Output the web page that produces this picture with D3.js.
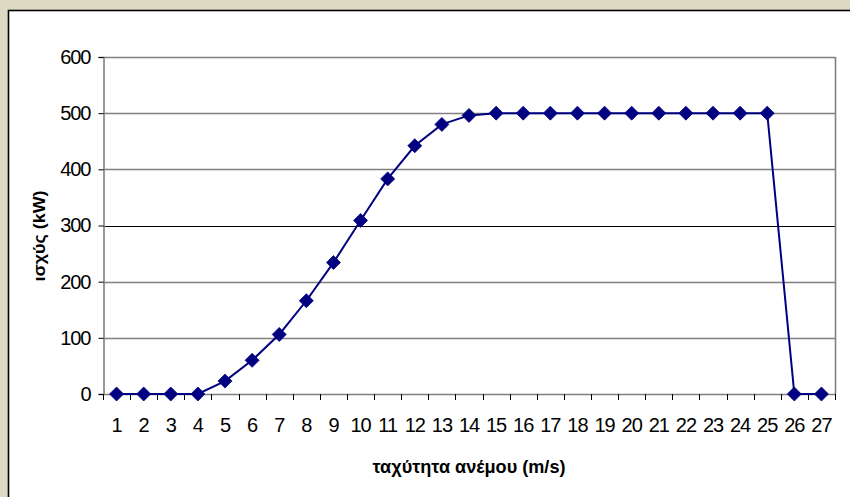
<!DOCTYPE html>
<html>
<head>
<meta charset="utf-8">
<script src="https://cdn.jsdelivr.net/npm/d3@7/dist/d3.min.js"></script>
<style>
  html, body { margin: 0; padding: 0; background: #ddd9c3; }
  svg { display: block; }
</style>
</head>
<body>
<svg id="chart" width="850" height="497"></svg>
<script>
// Wind speed (m/s) categories and turbine power output (kW)
const speeds = ["1","2","3","4","5","6","7","8","9","10","11","12","13","14","15","16","17","18","19","20","21","22","23","24","25","26","27"];
const power  = [0, 0, 0, 0, 23, 60, 106, 166, 234, 309, 383, 442, 480, 496, 500, 500, 500, 500, 500, 500, 500, 500, 500, 500, 500, 0, 0];
const yTicks = [0, 100, 200, 300, 400, 500, 600];

const xTitle = "ταχύτητα ανέμου (m/s)";
const yTitle = "ισχύς (kW)";

const W = 850, H = 497;
const plot = { left: 103, right: 835, top: 57, bottom: 394 };
const font = "'Liberation Sans', Arial, sans-serif";

const svg = d3.select("#chart");

// chart area panel
svg.append("rect")
  .attr("x", 8.5).attr("y", 10.5)
  .attr("width", W).attr("height", H)
  .attr("fill", "#ffffff")
  .attr("stroke", "#000").attr("stroke-width", 1.6);

const x = d3.scaleBand().domain(speeds).range([plot.left, plot.right]).padding(0);
const y = d3.scaleLinear().domain([0, 600]).range([plot.bottom, plot.top]);

// horizontal gridlines
svg.append("g").selectAll("line")
  .data(yTicks.filter(v => v > 0))
  .join("line")
  .attr("x1", plot.left).attr("x2", plot.right)
  .attr("y1", d => Math.round(y(d)) + 0.5).attr("y2", d => Math.round(y(d)) + 0.5)
  .attr("stroke", d => d === 300 ? "#000" : "#808080")
  .attr("stroke-width", d => d === 300 ? 1 : 1.6);

// right edge of the plot area
svg.append("line")
  .attr("x1", plot.right + 0.5).attr("x2", plot.right + 0.5)
  .attr("y1", plot.top).attr("y2", plot.bottom)
  .attr("stroke", "#808080").attr("stroke-width", 1.6);

// y axis
const yAxis = svg.append("g")
  .attr("transform", `translate(${plot.left + 0.5},0)`)
  .call(d3.axisLeft(y).tickValues(yTicks).tickSize(5).tickPadding(8).tickFormat(d3.format("d")));
yAxis.select(".domain").attr("stroke", "#808080").attr("stroke-width", 1.6);
yAxis.selectAll(".tick line").attr("stroke", "#000");
yAxis.selectAll(".tick text")
  .attr("font-family", font).attr("font-size", 20).attr("fill", "#000")
  .attr("letter-spacing", "-1px");

// x axis line
svg.append("line")
  .attr("x1", plot.left).attr("x2", plot.right + 1)
  .attr("y1", plot.bottom + 0.5).attr("y2", plot.bottom + 0.5)
  .attr("stroke", "#808080").attr("stroke-width", 1.6);

// x tick marks sit between categories
const boundaries = speeds.map(s => x(s)).concat([x(speeds[speeds.length - 1]) + x.bandwidth()]);
svg.append("g").selectAll("line")
  .data(boundaries)
  .join("line")
  .attr("x1", d => Math.round(d) + 0.5).attr("x2", d => Math.round(d) + 0.5)
  .attr("y1", plot.bottom).attr("y2", plot.bottom + 6)
  .attr("stroke", "#000");

// x tick labels
const xAxis = svg.append("g")
  .attr("transform", `translate(0,${plot.bottom})`)
  .call(d3.axisBottom(x).tickSize(0).tickPadding(0));
xAxis.select(".domain").remove();
xAxis.selectAll(".tick text")
  .attr("y", 38).attr("dy", 0)
  .attr("font-family", font).attr("font-size", 20).attr("fill", "#000")
  .attr("letter-spacing", "-1px");

// axis titles
svg.append("text")
  .attr("x", (plot.left + plot.right) / 2).attr("y", 473)
  .attr("text-anchor", "middle")
  .attr("font-family", font).attr("font-size", 18.5).attr("font-weight", "bold")
  .attr("textLength", 193).attr("lengthAdjust", "spacingAndGlyphs")
  .text(xTitle);

svg.append("text")
  .attr("transform", "translate(45,236) rotate(-90)")
  .attr("text-anchor", "middle")
  .attr("font-family", font).attr("font-size", 17).attr("font-weight", "bold")
  .attr("textLength", 91).attr("lengthAdjust", "spacingAndGlyphs")
  .text(yTitle);

// power curve
const cx = d => x(d) + x.bandwidth() / 2;
const line = d3.line()
  .x((d, i) => cx(speeds[i]))
  .y(d => y(d));

svg.append("path")
  .datum(power)
  .attr("d", line)
  .attr("fill", "none")
  .attr("stroke", "#000080")
  .attr("stroke-width", 2);

// diamond markers
const r = 7;
svg.append("g").selectAll("path")
  .data(power)
  .join("path")
  .attr("transform", (d, i) => `translate(${cx(speeds[i])},${y(d)})`)
  .attr("d", `M0,${-r}L${r},0L0,${r}L${-r},0Z`)
  .attr("fill", "#000080")
  .attr("stroke", "#000080")
  .attr("stroke-width", 0.8);
</script>
</body>
</html>
